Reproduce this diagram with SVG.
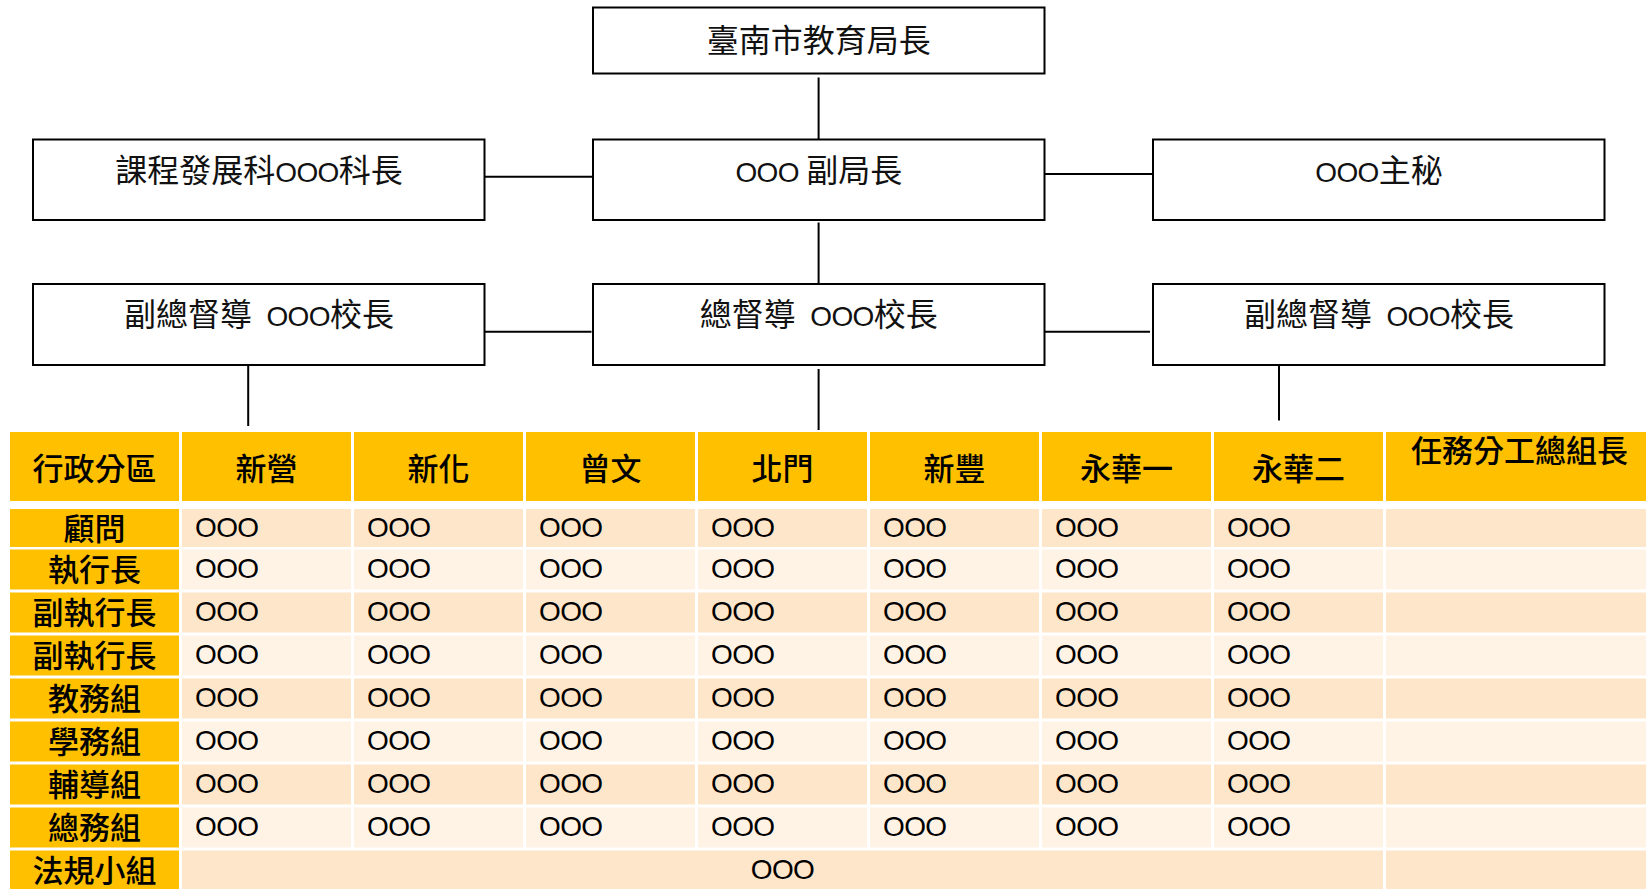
<svg xmlns="http://www.w3.org/2000/svg" width="1646" height="889" viewBox="0 0 1646 889">
<style>
.box{fill:#fff;stroke:#000;stroke-width:2}
.ln{stroke:#000;stroke-width:2;fill:none}
.nt{font-family:"Noto Sans CJK TC","Noto Sans CJK SC",sans-serif;font-size:32px;fill:#111;text-anchor:middle}
.lat{font-family:"Liberation Sans",Arial,sans-serif;font-size:28px;letter-spacing:-0.6px}
.hd{fill:#FFC000}
.b1{fill:#FEE6CB}
.b2{fill:#FFF3E6}
.ht{font-family:"Noto Sans CJK TC","Noto Sans CJK SC",sans-serif;font-size:31px;font-weight:500;fill:#000;text-anchor:middle}
.dt{font-family:"Liberation Sans",Arial,sans-serif;font-size:28px;letter-spacing:-0.6px;fill:#000}
</style>
<rect width="1646" height="889" fill="#fff"/>

<g id="connectors">
<line class="ln" x1="818.6" y1="77.5" x2="818.6" y2="139.5"/>
<line class="ln" x1="818.6" y1="222.5" x2="818.6" y2="284"/>
<line class="ln" x1="484.5" y1="176.7" x2="593" y2="176.7"/>
<line class="ln" x1="1044.5" y1="174" x2="1153" y2="174"/>
<line class="ln" x1="483" y1="331.7" x2="591.5" y2="331.7"/>
<line class="ln" x1="1041.5" y1="331.7" x2="1150" y2="331.7"/>
<line class="ln" x1="248.2" y1="365" x2="248.2" y2="426"/>
<line class="ln" x1="818.6" y1="369" x2="818.6" y2="430"/>
<line class="ln" x1="1279" y1="359" x2="1279" y2="420.5"/>
</g>

<g id="n-director">
<rect class="box" x="593" y="7.5" width="451.5" height="66"/>
<text class="nt" x="818.8" y="51.9">臺南市教育局長</text>
</g>
<g id="n-curriculum">
<rect class="box" x="33" y="139.5" width="451.5" height="80.5"/>
<text class="nt" x="259" y="181.5">課程發展科<tspan class="lat">OOO</tspan>科長</text>
</g>
<g id="n-deputy">
<rect class="box" x="593" y="139.5" width="451.5" height="80.5"/>
<text class="nt" x="818.8" y="181.5" xml:space="preserve"><tspan class="lat">OOO </tspan>副局長</text>
</g>
<g id="n-secretary">
<rect class="box" x="1153" y="139.5" width="451.5" height="80.5"/>
<text class="nt" x="1379" y="181.5"><tspan class="lat">OOO</tspan>主秘</text>
</g>
<g id="n-vice-left">
<rect class="box" x="33" y="284" width="451.5" height="81"/>
<text class="nt" x="259" y="326.2" xml:space="preserve">副總督導<tspan class="lat">  OOO</tspan>校長</text>
</g>
<g id="n-chief">
<rect class="box" x="593" y="284" width="451.5" height="81"/>
<text class="nt" x="818.8" y="326.2" xml:space="preserve">總督導<tspan class="lat">  OOO</tspan>校長</text>
</g>
<g id="n-vice-right">
<rect class="box" x="1153" y="284" width="451.5" height="81"/>
<text class="nt" x="1379" y="326.2" xml:space="preserve">副總督導<tspan class="lat">  OOO</tspan>校長</text>
</g>

<g id="table">
<g id="header">
<rect class="hd" x="10" y="432" width="169" height="69"/>
<rect class="hd" x="182" y="432" width="169" height="69"/>
<rect class="hd" x="354" y="432" width="169" height="69"/>
<rect class="hd" x="526" y="432" width="169" height="69"/>
<rect class="hd" x="698" y="432" width="169" height="69"/>
<rect class="hd" x="870" y="432" width="169" height="69"/>
<rect class="hd" x="1042" y="432" width="169" height="69"/>
<rect class="hd" x="1214" y="432" width="169" height="69"/>
<rect class="hd" x="1386" y="432" width="260" height="69"/>
<text class="ht" x="94.5" y="480">行政分區</text>
<text class="ht" x="266.5" y="480">新營</text>
<text class="ht" x="438.5" y="480">新化</text>
<text class="ht" x="610.5" y="480">曾文</text>
<text class="ht" x="782.5" y="480">北門</text>
<text class="ht" x="954.5" y="480">新豐</text>
<text class="ht" x="1126.5" y="480">永華一</text>
<text class="ht" x="1298.5" y="480">永華二</text>
<text class="ht" x="1519.5" y="462">任務分工總組長</text>
</g>

<g id="row-1">
<rect class="hd" x="10" y="509" width="169" height="38"/>
<rect class="b1" x="182" y="509" width="169" height="38"/><rect class="b1" x="354" y="509" width="169" height="38"/><rect class="b1" x="526" y="509" width="169" height="38"/><rect class="b1" x="698" y="509" width="169" height="38"/><rect class="b1" x="870" y="509" width="169" height="38"/><rect class="b1" x="1042" y="509" width="169" height="38"/><rect class="b1" x="1214" y="509" width="169" height="38"/><rect class="b1" x="1386" y="509" width="260" height="38"/>
<text class="ht" x="94.5" y="540">顧問</text>
<text class="dt" y="536.5"><tspan x="195">OOO</tspan><tspan x="367">OOO</tspan><tspan x="539">OOO</tspan><tspan x="711">OOO</tspan><tspan x="883">OOO</tspan><tspan x="1055">OOO</tspan><tspan x="1227">OOO</tspan></text>
</g>
<g id="row-2">
<rect class="hd" x="10" y="549.5" width="169" height="40"/>
<rect class="b2" x="182" y="549.5" width="169" height="40"/><rect class="b2" x="354" y="549.5" width="169" height="40"/><rect class="b2" x="526" y="549.5" width="169" height="40"/><rect class="b2" x="698" y="549.5" width="169" height="40"/><rect class="b2" x="870" y="549.5" width="169" height="40"/><rect class="b2" x="1042" y="549.5" width="169" height="40"/><rect class="b2" x="1214" y="549.5" width="169" height="40"/><rect class="b2" x="1386" y="549.5" width="260" height="40"/>
<text class="ht" x="94.5" y="581.3">執行長</text>
<text class="dt" y="577.5"><tspan x="195">OOO</tspan><tspan x="367">OOO</tspan><tspan x="539">OOO</tspan><tspan x="711">OOO</tspan><tspan x="883">OOO</tspan><tspan x="1055">OOO</tspan><tspan x="1227">OOO</tspan></text>
</g>
<g id="row-3">
<rect class="hd" x="10" y="592.5" width="169" height="40"/>
<rect class="b1" x="182" y="592.5" width="169" height="40"/><rect class="b1" x="354" y="592.5" width="169" height="40"/><rect class="b1" x="526" y="592.5" width="169" height="40"/><rect class="b1" x="698" y="592.5" width="169" height="40"/><rect class="b1" x="870" y="592.5" width="169" height="40"/><rect class="b1" x="1042" y="592.5" width="169" height="40"/><rect class="b1" x="1214" y="592.5" width="169" height="40"/><rect class="b1" x="1386" y="592.5" width="260" height="40"/>
<text class="ht" x="94.5" y="624.3">副執行長</text>
<text class="dt" y="620.5"><tspan x="195">OOO</tspan><tspan x="367">OOO</tspan><tspan x="539">OOO</tspan><tspan x="711">OOO</tspan><tspan x="883">OOO</tspan><tspan x="1055">OOO</tspan><tspan x="1227">OOO</tspan></text>
</g>
<g id="row-4">
<rect class="hd" x="10" y="635.5" width="169" height="40"/>
<rect class="b2" x="182" y="635.5" width="169" height="40"/><rect class="b2" x="354" y="635.5" width="169" height="40"/><rect class="b2" x="526" y="635.5" width="169" height="40"/><rect class="b2" x="698" y="635.5" width="169" height="40"/><rect class="b2" x="870" y="635.5" width="169" height="40"/><rect class="b2" x="1042" y="635.5" width="169" height="40"/><rect class="b2" x="1214" y="635.5" width="169" height="40"/><rect class="b2" x="1386" y="635.5" width="260" height="40"/>
<text class="ht" x="94.5" y="667.3">副執行長</text>
<text class="dt" y="663.5"><tspan x="195">OOO</tspan><tspan x="367">OOO</tspan><tspan x="539">OOO</tspan><tspan x="711">OOO</tspan><tspan x="883">OOO</tspan><tspan x="1055">OOO</tspan><tspan x="1227">OOO</tspan></text>
</g>
<g id="row-5">
<rect class="hd" x="10" y="678.5" width="169" height="40"/>
<rect class="b1" x="182" y="678.5" width="169" height="40"/><rect class="b1" x="354" y="678.5" width="169" height="40"/><rect class="b1" x="526" y="678.5" width="169" height="40"/><rect class="b1" x="698" y="678.5" width="169" height="40"/><rect class="b1" x="870" y="678.5" width="169" height="40"/><rect class="b1" x="1042" y="678.5" width="169" height="40"/><rect class="b1" x="1214" y="678.5" width="169" height="40"/><rect class="b1" x="1386" y="678.5" width="260" height="40"/>
<text class="ht" x="94.5" y="710.3">教務組</text>
<text class="dt" y="706.5"><tspan x="195">OOO</tspan><tspan x="367">OOO</tspan><tspan x="539">OOO</tspan><tspan x="711">OOO</tspan><tspan x="883">OOO</tspan><tspan x="1055">OOO</tspan><tspan x="1227">OOO</tspan></text>
</g>
<g id="row-6">
<rect class="hd" x="10" y="721.5" width="169" height="40"/>
<rect class="b2" x="182" y="721.5" width="169" height="40"/><rect class="b2" x="354" y="721.5" width="169" height="40"/><rect class="b2" x="526" y="721.5" width="169" height="40"/><rect class="b2" x="698" y="721.5" width="169" height="40"/><rect class="b2" x="870" y="721.5" width="169" height="40"/><rect class="b2" x="1042" y="721.5" width="169" height="40"/><rect class="b2" x="1214" y="721.5" width="169" height="40"/><rect class="b2" x="1386" y="721.5" width="260" height="40"/>
<text class="ht" x="94.5" y="753.3">學務組</text>
<text class="dt" y="749.5"><tspan x="195">OOO</tspan><tspan x="367">OOO</tspan><tspan x="539">OOO</tspan><tspan x="711">OOO</tspan><tspan x="883">OOO</tspan><tspan x="1055">OOO</tspan><tspan x="1227">OOO</tspan></text>
</g>
<g id="row-7">
<rect class="hd" x="10" y="764.5" width="169" height="40"/>
<rect class="b1" x="182" y="764.5" width="169" height="40"/><rect class="b1" x="354" y="764.5" width="169" height="40"/><rect class="b1" x="526" y="764.5" width="169" height="40"/><rect class="b1" x="698" y="764.5" width="169" height="40"/><rect class="b1" x="870" y="764.5" width="169" height="40"/><rect class="b1" x="1042" y="764.5" width="169" height="40"/><rect class="b1" x="1214" y="764.5" width="169" height="40"/><rect class="b1" x="1386" y="764.5" width="260" height="40"/>
<text class="ht" x="94.5" y="796.3">輔導組</text>
<text class="dt" y="792.5"><tspan x="195">OOO</tspan><tspan x="367">OOO</tspan><tspan x="539">OOO</tspan><tspan x="711">OOO</tspan><tspan x="883">OOO</tspan><tspan x="1055">OOO</tspan><tspan x="1227">OOO</tspan></text>
</g>
<g id="row-8">
<rect class="hd" x="10" y="807.5" width="169" height="40"/>
<rect class="b2" x="182" y="807.5" width="169" height="40"/><rect class="b2" x="354" y="807.5" width="169" height="40"/><rect class="b2" x="526" y="807.5" width="169" height="40"/><rect class="b2" x="698" y="807.5" width="169" height="40"/><rect class="b2" x="870" y="807.5" width="169" height="40"/><rect class="b2" x="1042" y="807.5" width="169" height="40"/><rect class="b2" x="1214" y="807.5" width="169" height="40"/><rect class="b2" x="1386" y="807.5" width="260" height="40"/>
<text class="ht" x="94.5" y="839.3">總務組</text>
<text class="dt" y="835.5"><tspan x="195">OOO</tspan><tspan x="367">OOO</tspan><tspan x="539">OOO</tspan><tspan x="711">OOO</tspan><tspan x="883">OOO</tspan><tspan x="1055">OOO</tspan><tspan x="1227">OOO</tspan></text>
</g>
<g id="row-9">
<rect class="hd" x="10" y="850.5" width="169" height="40"/>
<rect class="b1" x="182" y="850.5" width="1201" height="40"/>
<rect class="b1" x="1386" y="850.5" width="260" height="40"/>
<text class="ht" x="94.5" y="882.3">法規小組</text>
<text class="dt" x="782.5" y="879" text-anchor="middle">OOO</text>
</g>
</g>
</svg>
